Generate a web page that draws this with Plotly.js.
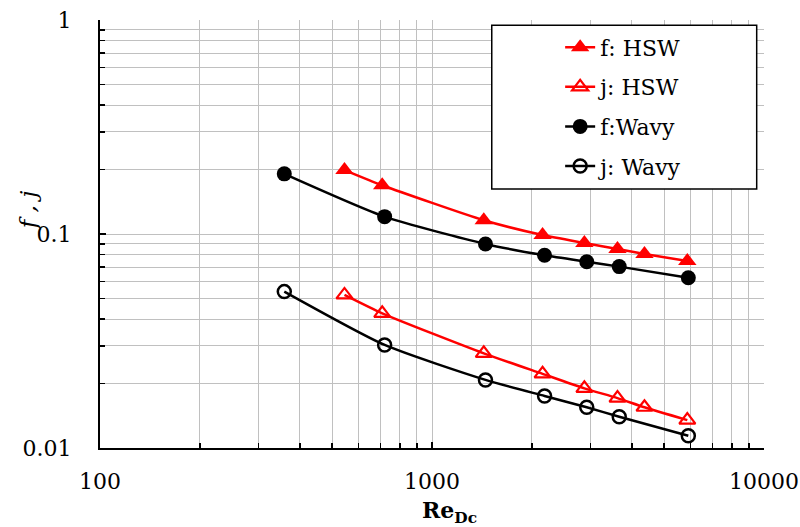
<!DOCTYPE html>
<html>
<head>
<meta charset="utf-8">
<script src="https://cdn.plot.ly/plotly-3.0.1.min.js"></script>
<style>html,body{margin:0;padding:0;background:#fff;}#chart{width:800px;height:527px;}</style>
</head>
<body>
<div id="chart"></div>
<script>
// Data
const reHSW = [545, 708, 1432, 2153, 2877, 3620, 4365, 5875];
const fHSW  = [0.199, 0.169, 0.116, 0.0989, 0.0908, 0.0851, 0.0806, 0.0748];
const jHSW  = [0.0519, 0.0426, 0.0277, 0.0222, 0.0190, 0.0171, 0.0155, 0.0135];
const reWavy = [359, 720, 1449, 2183, 2925, 3664, 5916];
const fWavy  = [0.191, 0.1205, 0.0898, 0.0795, 0.0742, 0.0704, 0.0625];
const jWavy  = [0.0538, 0.0303, 0.0208, 0.0175, 0.0155, 0.0140, 0.0114];
const seriesNames = ['f: HSW', 'j: HSW', 'f:Wavy', 'j: Wavy'];
const xTickVals = [100, 1000, 10000];
const xTickText = ['100', '1000', '10000'];
const yTickVals = [0.01, 0.1, 1];
const yTickText = ['0.01', '0.1', '1'];
const xTitle = '<b>Re<sub>Dc</sub></b>';
const yTitle = '<i>f , j</i>';

function minorVals(lo, hi) {
  const v = [];
  for (let d = lo; d < hi * 0.999; d *= 10) {
    for (let k = 2; k <= 9; k++) v.push(d * k);
  }
  return v;
}

const RED = '#ff0000', BLACK = '#000000';
const lineBase = {shape: 'spline', smoothing: 0.6, width: 2.5};

const traces = [
  {x: reHSW, y: fHSW, name: seriesNames[0], legendgroup: 'a', mode: 'lines+markers',
   line: Object.assign({color: RED}, lineBase),
   marker: {symbol: 'triangle-up', size: 16, color: RED}},
  {x: reHSW, y: jHSW, name: seriesNames[1], legendgroup: 'b', mode: 'lines+markers',
   line: Object.assign({color: RED}, lineBase),
   marker: {symbol: 'triangle-up-open', size: 14, color: RED, line: {width: 2.2, color: RED}}},
  {x: reWavy, y: fWavy, name: seriesNames[2], legendgroup: 'c', mode: 'lines+markers',
   line: Object.assign({color: BLACK}, lineBase),
   marker: {symbol: 'circle', size: 15, color: BLACK}},
  {x: reWavy, y: jWavy, name: seriesNames[3], legendgroup: 'd', mode: 'lines+markers',
   line: Object.assign({color: BLACK}, lineBase),
   marker: {symbol: 'circle-open', size: 13, color: BLACK, line: {width: 2.5, color: BLACK}}}
];

const serif = 'DejaVu Serif';

const layout = {
  width: 800, height: 527,
  margin: {l: 100, r: 36, t: 20, b: 79},
  paper_bgcolor: '#fff', plot_bgcolor: '#fff',
  font: {family: serif, size: 22, color: '#000'},
  showlegend: true,
  legend: {
    x: 0.693, y: 0.985, xanchor: 'left', yanchor: 'top',
    bgcolor: 'rgba(0,0,0,0)', borderwidth: 0,
    font: {family: serif, size: 22, color: '#000'},
    tracegroupgap: 8
  },
  shapes: [{
    type: 'rect', xref: 'paper', yref: 'paper', layer: 'above',
    x0: 0.590, x1: 0.989, y0: 0.605, y1: 0.988,
    fillcolor: '#fff', line: {color: '#000', width: 1.5}
  }],
  annotations: [
    {text: xTitle, xref: 'paper', yref: 'paper', x: 0.527, y: -0.150,
     xanchor: 'center', yanchor: 'middle', showarrow: false,
     font: {family: serif, size: 22, color: '#000'}},
    {text: yTitle, xref: 'paper', yref: 'paper', x: -0.108, y: 0.556,
     xanchor: 'center', yanchor: 'middle', showarrow: false, textangle: -90,
     font: {family: serif, size: 23, color: '#000'}}
  ],
  xaxis: {
    type: 'log', range: [2, 4],
    tickmode: 'array', tickvals: xTickVals, ticktext: xTickText,
    ticks: 'inside', ticklen: 6, tickwidth: 2, tickcolor: '#000',
    showline: true, linecolor: '#000', linewidth: 2,
    showgrid: true, gridcolor: '#c0c0c0', gridwidth: 1,
    zeroline: false,
    tickfont: {family: serif, size: 22},
    ticklabelstandoff: 13,
    minor: {tickmode: 'array', tickvals: minorVals(100, 10000), ticks: 'inside', ticklen: 5,
            tickwidth: 1.5, tickcolor: '#000', showgrid: true, gridcolor: '#c0c0c0', gridwidth: 1}
  },
  yaxis: {
    type: 'log', range: [-2, 0],
    tickmode: 'array', tickvals: yTickVals, ticktext: yTickText,
    ticks: 'inside', ticklen: 6, tickwidth: 2, tickcolor: '#000',
    showline: true, linecolor: '#000', linewidth: 2,
    showgrid: true, gridcolor: '#c0c0c0', gridwidth: 1,
    zeroline: false,
    tickfont: {family: serif, size: 22},
    ticklabelstandoff: 22,
    minor: {tickmode: 'array', tickvals: minorVals(0.01, 1), ticks: 'inside', ticklen: 5,
            tickwidth: 1.5, tickcolor: '#000', showgrid: true, gridcolor: '#c0c0c0', gridwidth: 1}
  }
};

Plotly.newPlot('chart', traces, layout, {displayModeBar: false, staticPlot: true});
</script>
</body>
</html>
